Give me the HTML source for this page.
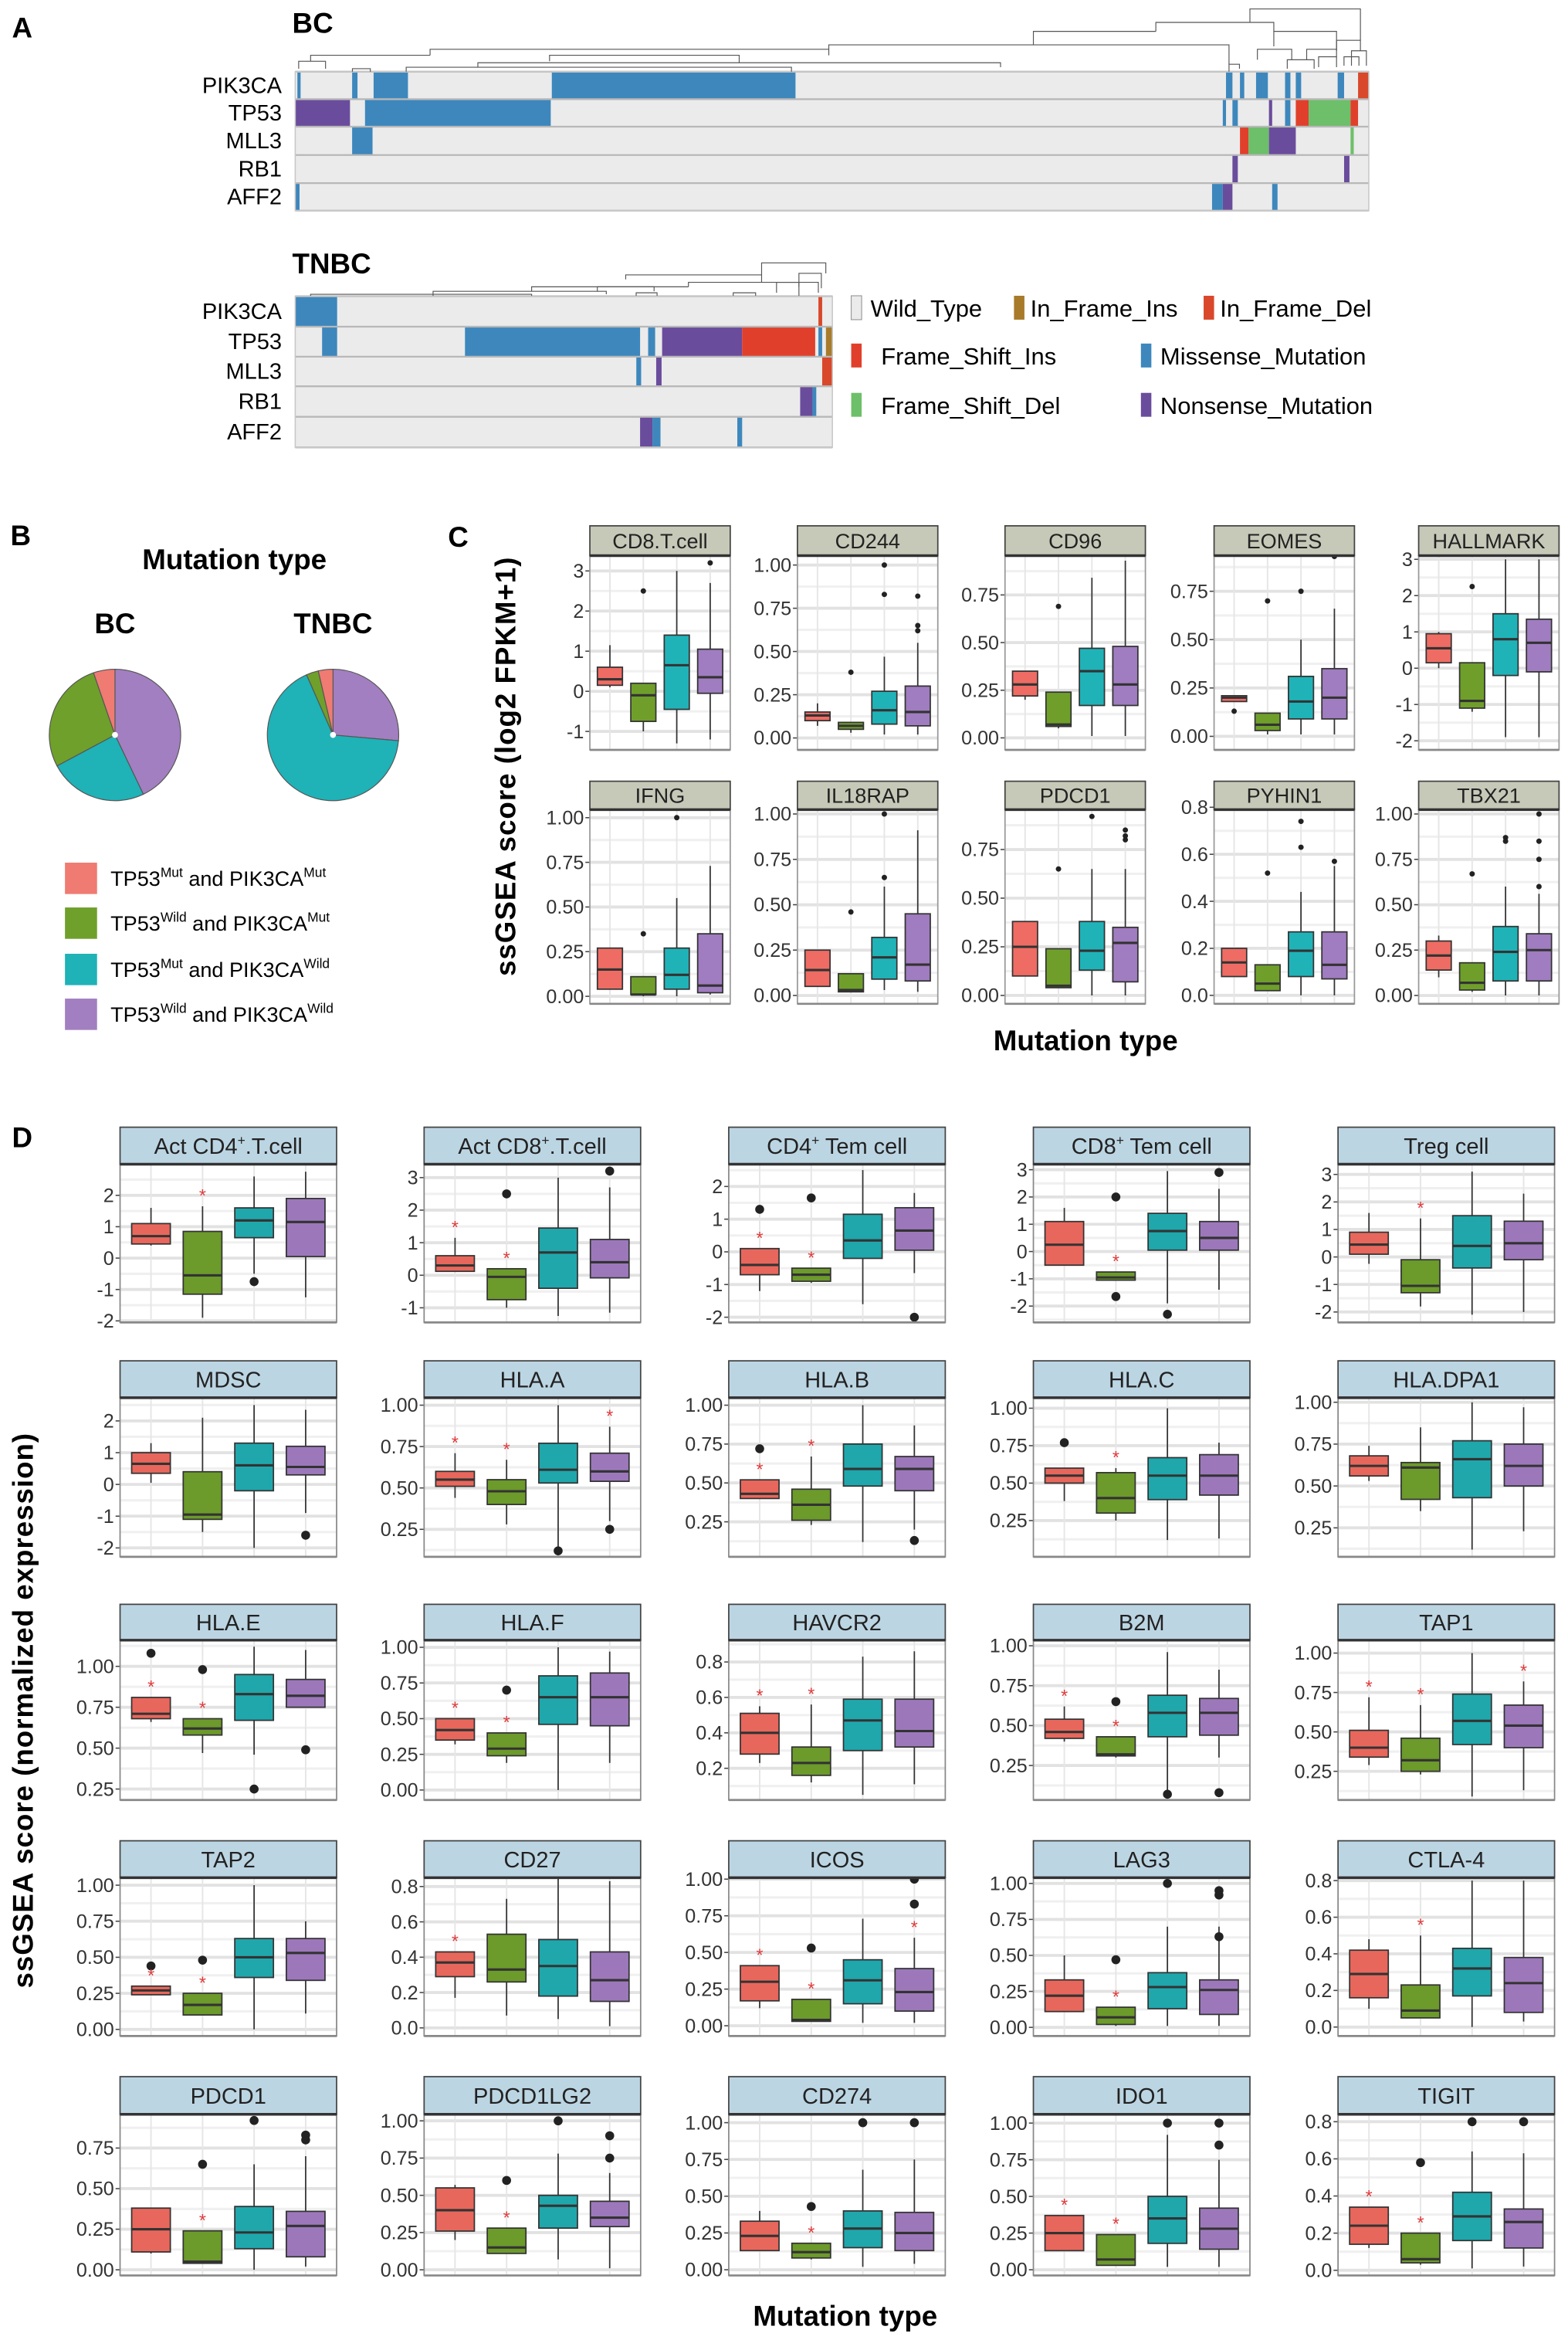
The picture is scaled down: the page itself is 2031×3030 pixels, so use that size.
<!DOCTYPE html>
<html><head><meta charset="utf-8"><style>
html,body{margin:0;padding:0;background:#fff;}
svg{display:block;}
text{font-family:"Liberation Sans",sans-serif;}
.nar{font-family:"Liberation Sans Narrow","Liberation Sans",sans-serif;}
</style></head><body>
<svg id="fig" xmlns="http://www.w3.org/2000/svg" width="2031" height="3030" viewBox="0 0 1050 1566.5" preserveAspectRatio="none">
<g id="panelA"></g>
<g id="panelB"></g>
<g id="panelC"></g>
<g id="panelD"></g>
</svg>
<script>
// ---------- Panel A data ----------
const genes = ["PIK3CA","TP53","MLL3","RB1","AFF2"];
const mutColors = {M:"#3d87bd",N:"#6a4c9c",FI:"#e0402b",FD:"#6dbf6a",ID:"#d9482b",II:"#a87b2a"};
const bcSegments = [
 [0,2,5,"M"],[0,53,58,"M"],[0,73,105,"M"],[0,239,466,"M"],[0,867,873,"M"],[0,880,884,"M"],[0,895,906,"M"],[0,922,927,"M"],[0,932,937,"M"],[0,971,977,"M"],[0,990,1000,"ID"],
 [1,0,51,"N"],[1,65,238,"M"],[1,864,867,"M"],[1,873,878,"M"],[1,907,910,"N"],[1,922,927,"M"],[1,932,944,"FI"],[1,944,983,"FD"],[1,983,990,"FI"],
 [2,53,72,"M"],[2,880,888,"FI"],[2,888,907,"FD"],[2,907,932,"N"],[2,983,986,"FD"],
 [3,873,878,"N"],[3,977,982,"N"],
 [4,0,4,"M"],[4,854,864,"M"],[4,864,873,"N"],[4,910,915,"M"]
];
const tnbcSegments = [
 [0,0,78,"M"],[0,974,981,"ID"],
 [1,50,78,"M"],[1,316,642,"M"],[1,657,670,"M"],[1,683,832,"N"],[1,832,968,"FI"],[1,974,981,"M"],[1,988,1000,"II"],
 [2,635,644,"M"],[2,672,682,"N"],[2,981,1000,"ID"],
 [3,940,963,"N"],[3,963,970,"M"],
 [4,642,665,"N"],[4,665,680,"M"],[4,823,832,"M"]
];
// ---------- Panel B data ----------
const groupLabels = [["TP53","Mut","PIK3CA","Mut"],["TP53","Wild","PIK3CA","Mut"],["TP53","Mut","PIK3CA","Wild"],["TP53","Wild","PIK3CA","Wild"]];
const bcFractions = [0.053,0.275,0.243,0.429];
const tnbcFractions = [0.036,0.03,0.67,0.264];
// ---------- Panel C data ----------
const cTitles = ["CD8.T.cell","CD244","CD96","EOMES","HALLMARK","IFNG","IL18RAP","PDCD1","PYHIN1","TBX21"];
const cDomains = [[-1.46,3.38],[-0.069,1.054],[-0.063,0.956],[-0.07,0.934],[-2.25,3.1],[-0.042,1.045],[-0.046,1.024],[-0.043,0.955],[-0.036,0.79],[-0.046,1.024]];
const cTicks = [[-1,0,1,2,3],[0,0.25,0.5,0.75,1],[0,0.25,0.5,0.75],[0,0.25,0.5,0.75],[-2,-1,0,1,2,3],[0,0.25,0.5,0.75,1],[0,0.25,0.5,0.75,1],[0,0.25,0.5,0.75],[0,0.2,0.4,0.6,0.8],[0,0.25,0.5,0.75,1]];
const cDec = [0,2,2,2,0,2,2,2,1,2];
const cBoxes = [
 [[0.1,0.15,0.3,0.6,1.15],[-1,-0.75,-0.1,0.2,0.2],[-1.3,-0.45,0.65,1.4,3.0],[-1.2,-0.05,0.35,1.05,2.7]],
 [[0.07,0.1,0.13,0.15,0.2],[0.03,0.05,0.07,0.09,0.09],[0.02,0.08,0.16,0.27,0.47],[0.02,0.07,0.15,0.3,0.55]],
 [[0.2,0.22,0.28,0.35,0.35],[0.05,0.06,0.07,0.24,0.24],[0.01,0.17,0.35,0.47,0.84],[0.01,0.17,0.28,0.48,0.93]],
 [[0.18,0.18,0.2,0.21,0.21],[0.01,0.03,0.06,0.12,0.12],[0.01,0.09,0.18,0.31,0.5],[0.01,0.09,0.2,0.35,0.66]],
 [[0,0.15,0.55,0.95,1.0],[-1.2,-1.1,-0.9,0.15,0.15],[-1.9,-0.2,0.8,1.5,3.0],[-1.9,-0.1,0.7,1.35,3.0]],
 [[0.04,0.04,0.15,0.27,0.27],[0,0.01,0.01,0.11,0.11],[0,0.04,0.12,0.27,0.55],[0.01,0.02,0.06,0.35,0.73]],
 [[0.05,0.05,0.14,0.25,0.25],[0.02,0.02,0.03,0.12,0.12],[0.03,0.09,0.21,0.32,0.6],[0.02,0.08,0.17,0.45,0.91]],
 [[0.1,0.1,0.25,0.38,0.38],[0.04,0.04,0.05,0.24,0.24],[0,0.13,0.23,0.38,0.65],[0,0.07,0.27,0.35,0.65]],
 [[0.08,0.08,0.14,0.2,0.2],[0.02,0.02,0.05,0.13,0.13],[0,0.08,0.19,0.27,0.44],[0,0.07,0.13,0.27,0.55]],
 [[0.1,0.14,0.22,0.3,0.33],[0.02,0.03,0.07,0.18,0.18],[0,0.08,0.24,0.38,0.6],[0,0.08,0.25,0.34,0.56]]
];
const cOutliers = [
 [[],[2.5],[],[3.2]],
 [[],[0.38],[0.83,1.0],[0.62,0.65,0.82]],
 [[],[0.69],[],[]],
 [[0.13],[0.7],[0.75],[0.93]],
 [[],[2.25],[],[]],
 [[],[0.35],[1.0],[]],
 [[],[0.46],[0.65,1.0],[]],
 [[],[0.65],[0.92],[0.8,0.82,0.85]],
 [[],[0.52],[0.63,0.74,0.8],[0.57,0.8]],
 [[],[0.67],[0.85,0.87],[0.6,0.75,0.85,1.0]]
];
// ---------- Panel D data ----------
const dTitles = ["Act CD4|.T.cell","Act CD8|.T.cell","CD4| Tem cell","CD8| Tem cell","Treg cell",
 "MDSC","HLA.A","HLA.B","HLA.C","HLA.DPA1",
 "HLA.E","HLA.F","HAVCR2","B2M","TAP1",
 "TAP2","CD27","ICOS","LAG3","CTLA-4",
 "PDCD1","PDCD1LG2","CD274","IDO1","TIGIT"];
const dDomains = [[-2.05,2.99],[-1.45,3.41],[-2.16,2.68],[-2.6,3.2],[-2.38,3.37],
 [-2.28,2.73],[0.084,1.045],[0.025,1.048],[0.008,1.07],[0.077,1.027],
 [0.183,1.16],[-0.07,1.05],[0.021,0.923],[0.034,1.035],[0.068,1.082],
 [-0.046,1.052],[-0.046,0.85],[-0.07,1.01],[-0.06,1.04],[-0.049,0.816],
 [-0.035,0.958],[-0.038,1.044],[-0.039,1.057],[-0.039,1.06],[-0.028,0.84]];
const dTicks = [[-2,-1,0,1,2],[-1,0,1,2,3],[-2,-1,0,1,2],[-2,-1,0,1,2,3],[-2,-1,0,1,2,3],
 [-2,-1,0,1,2],[0.25,0.5,0.75,1],[0.25,0.5,0.75,1],[0.25,0.5,0.75,1],[0.25,0.5,0.75,1],
 [0.25,0.5,0.75,1],[0,0.25,0.5,0.75,1],[0.2,0.4,0.6,0.8],[0.25,0.5,0.75,1],[0.25,0.5,0.75,1],
 [0,0.25,0.5,0.75,1],[0,0.2,0.4,0.6,0.8],[0,0.25,0.5,0.75,1],[0,0.25,0.5,0.75,1],[0,0.2,0.4,0.6,0.8],
 [0,0.25,0.5,0.75],[0,0.25,0.5,0.75,1],[0,0.25,0.5,0.75,1],[0,0.25,0.5,0.75,1],[0,0.2,0.4,0.6,0.8]];
const dDec = [0,0,0,0,0, 0,2,2,2,2, 2,2,1,2,2, 2,1,2,2,1, 2,2,2,2,1];
const dBoxes = [
 [[0.4,0.45,0.7,1.1,1.6],[-1.9,-1.15,-0.55,0.85,1.65],[-0.5,0.65,1.2,1.6,2.6],[-1.25,0.05,1.15,1.9,2.75]],
 [[0.1,0.12,0.3,0.6,1.15],[-1,-0.75,-0.05,0.2,0.2],[-1.25,-0.4,0.7,1.45,3.0],[-1.15,-0.08,0.4,1.1,2.7]],
 [[-1.2,-0.7,-0.4,0.1,0.1],[-0.95,-0.9,-0.7,-0.5,-0.5],[-1.6,-0.2,0.35,1.15,2.5],[-0.65,0.05,0.65,1.35,1.8]],
 [[-0.5,-0.5,0.25,1.1,1.6],[-1.05,-1.05,-0.95,-0.75,-0.75],[-1.9,0.05,0.75,1.4,2.95],[-1.4,0.05,0.5,1.1,2.3]],
 [[-0.25,0.1,0.45,0.9,1.6],[-1.8,-1.3,-1.05,-0.1,1.4],[-2.1,-0.4,0.4,1.5,3.1],[-2.0,-0.1,0.5,1.3,2.3]],
 [[0.05,0.35,0.65,1.0,1.3],[-1.5,-1.1,-0.95,0.4,2.1],[-2.0,-0.2,0.6,1.3,2.5],[-0.9,0.3,0.55,1.2,2.35]],
 [[0.44,0.51,0.55,0.6,0.71],[0.28,0.4,0.48,0.55,0.67],[0.14,0.53,0.61,0.77,1.0],[0.3,0.54,0.6,0.71,0.87]],
 [[0.4,0.4,0.43,0.52,0.52],[0.23,0.26,0.36,0.46,0.67],[0.12,0.48,0.59,0.75,1.0],[0.2,0.45,0.59,0.67,0.87]],
 [[0.38,0.5,0.55,0.6,0.6],[0.25,0.3,0.4,0.57,0.6],[0.12,0.39,0.55,0.67,1.0],[0.13,0.42,0.55,0.69,0.77]],
 [[0.53,0.56,0.62,0.68,0.74],[0.35,0.42,0.61,0.64,0.85],[0.12,0.43,0.66,0.77,1.0],[0.23,0.5,0.62,0.75,0.97]],
 [[0.66,0.68,0.71,0.81,0.81],[0.47,0.58,0.62,0.68,0.68],[0.46,0.67,0.83,0.95,1.12],[0.75,0.75,0.82,0.92,1.1]],
 [[0.32,0.35,0.42,0.5,0.5],[0.19,0.24,0.29,0.4,0.4],[0.0,0.46,0.65,0.8,1.0],[0.19,0.45,0.65,0.82,0.97]],
 [[0.23,0.28,0.4,0.51,0.55],[0.12,0.16,0.23,0.32,0.56],[0.05,0.3,0.47,0.59,0.83],[0.11,0.32,0.41,0.59,0.86]],
 [[0.4,0.42,0.46,0.54,0.62],[0.3,0.31,0.32,0.43,0.43],[0.09,0.43,0.58,0.69,0.96],[0.3,0.44,0.58,0.67,0.85]],
 [[0.29,0.34,0.4,0.51,0.72],[0.23,0.25,0.32,0.46,0.67],[0.09,0.42,0.57,0.74,1.0],[0.13,0.4,0.54,0.67,0.82]],
 [[0.24,0.24,0.27,0.3,0.3],[0.1,0.1,0.17,0.25,0.25],[0.0,0.36,0.5,0.63,1.0],[0.11,0.34,0.53,0.63,0.75]],
 [[0.17,0.29,0.37,0.43,0.43],[0.07,0.26,0.33,0.53,0.73],[0.05,0.18,0.35,0.5,0.85],[0.01,0.15,0.27,0.43,0.83]],
 [[0.12,0.17,0.3,0.41,0.41],[0.03,0.03,0.04,0.18,0.18],[0.02,0.15,0.31,0.45,0.73],[0.02,0.1,0.23,0.39,0.6]],
 [[0.11,0.11,0.22,0.33,0.5],[0.01,0.02,0.07,0.14,0.14],[0.01,0.13,0.28,0.38,0.7],[0.01,0.09,0.26,0.33,0.7]],
 [[0.1,0.16,0.29,0.42,0.48],[0.05,0.05,0.09,0.23,0.5],[0.0,0.17,0.32,0.43,0.8],[0.03,0.08,0.24,0.38,0.8]],
 [[0.1,0.11,0.25,0.38,0.38],[0.04,0.04,0.05,0.24,0.24],[0.0,0.13,0.23,0.39,0.65],[0.02,0.08,0.27,0.36,0.7]],
 [[0.2,0.26,0.4,0.55,0.57],[0.11,0.11,0.15,0.28,0.28],[0.07,0.28,0.43,0.5,0.78],[0.01,0.29,0.35,0.46,0.65]],
 [[0.13,0.13,0.23,0.33,0.4],[0.07,0.08,0.12,0.18,0.18],[0.02,0.15,0.28,0.4,0.68],[0.04,0.13,0.25,0.39,0.75]],
 [[0.13,0.13,0.25,0.37,0.37],[0.03,0.03,0.07,0.24,0.24],[0.02,0.18,0.35,0.5,0.92],[0.02,0.14,0.28,0.42,0.75]],
 [[0.12,0.14,0.24,0.34,0.34],[0.03,0.04,0.06,0.2,0.2],[0.01,0.16,0.29,0.42,0.64],[0.02,0.12,0.26,0.33,0.63]]
];
const dOutliers = [
 [[],[],[-0.75],[]],[[],[2.5],[],[3.2]],[[1.3],[1.65],[],[-2.0]],[[],[2.0,-1.65],[-2.3],[2.9]],[[],[],[],[]],
 [[],[],[],[-1.6]],[[],[],[0.12],[0.25]],[[0.72],[],[],[0.13]],[[0.77],[],[],[]],[[],[],[],[]],
 [[1.08],[0.98],[0.25],[0.49]],[[],[0.7],[],[]],[[],[],[],[]],[[],[0.65],[0.07],[0.08]],[[],[],[],[]],
 [[0.44],[0.48],[],[]],[[],[],[],[]],[[],[0.53],[],[0.83,1.0]],[[],[0.47],[1.0],[0.63,0.92,0.95]],[[],[],[],[]],
 [[],[0.65],[0.92],[0.8,0.83]],[[],[0.6],[1.0],[0.75,0.9]],[[],[0.43],[1.0],[1.0]],[[],[],[1.0],[0.85,1.0]],[[],[0.58],[0.8],[0.8]]
];
const dStars = [
 [0,1,0,0],[1,1,0,0],[1,1,0,0],[0,1,0,0],[0,1,0,0],
 [0,0,0,0],[1,1,0,1],[1,1,0,0],[0,1,0,0],[0,0,0,0],
 [1,1,0,0],[1,1,0,0],[1,1,0,0],[1,1,0,0],[1,1,0,1],
 [1,1,0,0],[1,0,0,1],[1,1,0,1],[0,1,0,0],[0,1,0,0],
 [0,1,0,0],[0,1,0,0],[0,1,0,0],[1,1,0,0],[1,1,0,0]
];
</script>
<script>
const NS="http://www.w3.org/2000/svg";
function mk(parent,tag,attrs,txt){const e=document.createElementNS(NS,tag);for(const k in attrs)e.setAttribute(k,attrs[k]);if(txt!==undefined)e.textContent=txt;parent.appendChild(e);return e;}
const A=document.getElementById('panelA'),B=document.getElementById('panelB'),C=document.getElementById('panelC'),D=document.getElementById('panelD');

// ---------- Panel A ----------
let t=mk(A,'text',{x:8,y:25,'font-size':19,'font-weight':'bold'},'A');

function oncoprint(g,title,x0,x1,rows,segs,tops,tree){
  let tt=mk(g,'text',{x:x0-2,y:tops.titleY,'font-size':19,'font-weight':'bold'},title);
  
  const hm=mk(g,'g',{});
  
  mk(hm,'rect',{x:x0,y:rows[0],width:x1-x0,height:rows[5]-rows[0],fill:'#ebebeb'});
  const sx=v=>x0+(x1-x0)*v/1000;
  segs.forEach(s=>{
    const r=mk(hm,'rect',{x:sx(s[1]),y:rows[s[0]],width:Math.max(0.8,sx(s[2])-sx(s[1])),height:rows[s[0]+1]-rows[s[0]],fill:mutColors[s[3]]});
    
  });
  for(let i=0;i<6;i++) mk(hm,'line',{x1:x0,x2:x1,y1:rows[i],y2:rows[i],stroke:'#b8b8b8','stroke-width':1.2});
  mk(hm,'rect',{x:x0,y:rows[0],width:x1-x0,height:rows[5]-rows[0],fill:'none',stroke:'#c8c8c8','stroke-width':0.8});
  genes.forEach((gn,i)=>{
    const l=mk(g,'text',{x:x0-9,y:(rows[i]+rows[i+1])/2+5,'font-size':15,'text-anchor':'end',class:'nar'},gn);
    
  });
  const tg=mk(g,'g',{stroke:'#555','stroke-width':0.6,fill:'none'});
  
  tree.forEach(b=>mk(tg,'path',{d:`M${b[0]},${b[3]}V${b[2]}H${b[1]}V${b[4]}`}));
}
const bcTree=[[837,911,6,15,27],[774,853,15,21,21],[692,774,21,30,21],[555,823,30,33,43],[853,895,21,31,33],
 [288,555,33,37,37],[208,288,37,41,37],[368,495,37,41,42],[320,670,42,45,45],[272,530,45,48,48],[200,218,41,46,46],
 [236,248,46,48,48],[823,830,43,48,46],[842,865,33,40,40],[875,895,33,40,38],[895,911,27,34,34],[900,910,38,44,44],
 [862,880,40,46,46],[883,895,38,45,45],[905,915,34,44,44]];
oncoprint(A,'BC',197.7,916.6,[48,66.4,84.8,103.8,122.6,141],bcSegments,{titleY:22},bcTree);
const tnTree=[[510,553,176,184,183],[419,510,184,187,189],[461,535,189,192,192],[356,461,192,195,192],[290,406,195,198,197],
 [208,356,197,198,198],[520,548,189,196,196],[535,550,183,198,193],[426,440,196,198,198],[491,506,196,198,198],[400,438,192,195,195]];
oncoprint(A,'TNBC',197.7,557.4,[198.3,218.7,238.8,258.6,279,299.5],tnbcSegments,{titleY:183},tnTree);
const legItems=[["Wild_Type","#ebebeb",570,583,206],["In_Frame_Ins",mutColors.II,679,690,206],["In_Frame_Del",mutColors.ID,806,817,206],
 ["Frame_Shift_Ins",mutColors.FI,570,590,238],["Missense_Mutation",mutColors.M,764,777,238],
 ["Frame_Shift_Del",mutColors.FD,570,590,271],["Nonsense_Mutation",mutColors.N,764,777,271]];
legItems.forEach(it=>{
  const g=mk(A,'g',{});
  
  mk(g,'rect',{x:it[2],y:it[4]-8,width:7,height:16,fill:it[1],stroke:it[0]==="Wild_Type"?'#999':'none','stroke-width':0.6});
  mk(g,'text',{x:it[3],y:it[4]+6,'font-size':16,class:'nar'},it[0]);
});

// ---------- Panel B ----------
t=mk(B,'text',{x:7,y:365,'font-size':19,'font-weight':'bold'},'B');

t=mk(B,'text',{x:157,y:381,'font-size':19,'font-weight':'bold','text-anchor':'middle'},'Mutation type');

const grpColors=["#ef7b72","#6fa02b","#1fb2b7","#a27fc0"];
function pie(cx,cy,r,fr,label,name){
  const g=mk(B,'g',{});
  const lt=mk(g,'text',{x:cx,y:cy-68,'font-size':19,'font-weight':'bold','text-anchor':'middle'},label);
  // order clockwise from top: red? ref: purple first clockwise, then teal, green, red
  const order=[3,2,1,0];let a=0;
  order.forEach(i=>{
    const a2=a+fr[i]*2*Math.PI;
    const p=(an)=>[cx+r*Math.sin(an),cy-r*Math.cos(an)];
    const [x1,y1]=p(a),[x2,y2]=p(a2);
    const s=mk(g,'path',{d:`M${cx},${cy}L${x1},${y1}A${r},${r} 0 ${a2-a>Math.PI?1:0} 1 ${x2},${y2}Z`,fill:grpColors[i],stroke:'#555','stroke-width':0.6});
    
    a=a2;
  });
  mk(g,'circle',{cx:cx,cy:cy,r:2,fill:'#fff'});
}
pie(77,492,44,bcFractions,'BC','bc-pie');
pie(223,492,44,tnbcFractions,'TNBC','tnbc-pie');
const legY=[588,618,649,679];
groupLabels.forEach((gl,i)=>{
  const g=mk(B,'g',{});
  mk(g,'rect',{x:43.5,y:legY[i]-10.5,width:21.5,height:21,fill:grpColors[i]});
  const tx=mk(g,'text',{x:74,y:legY[i]+5,'font-size':14,class:'nar'});
  tx.innerHTML=`${gl[0]}<tspan font-size="9" dy="-6">${gl[1]}</tspan><tspan dy="6"> and ${gl[2]}</tspan><tspan font-size="9" dy="-6">${gl[3]}</tspan>`;
});

// ---------- Box panel helper ----------
const boxCols=["#e8675c","#6c9a2b","#1fa7ac","#9c78bb"];
function boxPanel(g,px,pw,st,T,Bt,title,dom,ticks,dec,boxes,outs,stars,style){
  const pg=mk(g,'g',{});
  
  
  const [lo,hi]=dom;const y=v=>T+(hi-v)/(hi-lo)*(Bt-T);
  const cx=i=>px+pw*(i+0.6)/4.2;const bw=pw*0.75/4.2;
  mk(pg,'rect',{x:px,y:T,width:pw,height:Bt-T,fill:'#fff'});
  // minor grid
  const step=ticks[1]-ticks[0];
  for(let v=ticks[0]-step/2;v<=hi;v+=step){if(v>lo&&v<hi)mk(pg,'line',{x1:px,x2:px+pw,y1:y(v),y2:y(v),stroke:'#f0f0f0','stroke-width':1.6});}
  ticks.forEach(v=>{mk(pg,'line',{x1:px,x2:px+pw,y1:y(v),y2:y(v),stroke:'#e2e2e2','stroke-width':2});});
  for(let i=0;i<4;i++)mk(pg,'line',{x1:cx(i),x2:cx(i),y1:T,y2:Bt,stroke:'#e6e6e6','stroke-width':1});
  ticks.forEach(v=>{
    mk(pg,'line',{x1:px-3,x2:px,y1:y(v),y2:y(v),stroke:'#444','stroke-width':0.8});
    const tl=mk(pg,'text',{x:px-4,y:y(v)+4.5,'font-size':style.tf,'text-anchor':'end',fill:'#333',class:'nar'},v.toFixed(dec));
    
  });
  boxes.forEach((b,i)=>{
    const bg=mk(pg,'g',{});
    
    mk(bg,'line',{x1:cx(i),x2:cx(i),y1:y(b[0]),y2:y(b[4]),stroke:'#333','stroke-width':0.9});
    mk(bg,'rect',{x:cx(i)-bw/2,y:y(b[3]),width:bw,height:Math.max(1,y(b[1])-y(b[3])),fill:style.cols[i],stroke:'#333','stroke-width':0.9});
    mk(bg,'line',{x1:cx(i)-bw/2,x2:cx(i)+bw/2,y1:y(b[2]),y2:y(b[2]),stroke:'#333','stroke-width':1.6});
    (outs[i]||[]).forEach(o=>{const c=mk(bg,'circle',{cx:cx(i),cy:y(o),r:style.or,fill:'#222'});});
    if(stars&&stars[i]){const s=mk(bg,'text',{x:cx(i),y:y(b[4])-3,'font-size':12,'text-anchor':'middle',fill:'#e0393a'},'*');}
  });
  mk(pg,'rect',{x:px,y:T,width:pw,height:Bt-T,fill:'none',stroke:style.border,'stroke-width':0.9});
  mk(pg,'line',{x1:px,x2:px+pw,y1:Bt,y2:Bt,stroke:'#888','stroke-width':1.4});
  // strip
  const sg=mk(pg,'g',{});
  mk(sg,'rect',{x:px,y:st,width:pw,height:T-st,fill:style.strip,stroke:'#444','stroke-width':0.9});
  mk(sg,'line',{x1:px,x2:px+pw,y1:T,y2:T,stroke:'#333','stroke-width':1.8});
  const parts=title.split('|');
  const tx=mk(sg,'text',{x:px+pw/2,y:(st+T)/2+style.sf*0.36,'font-size':style.sf,'text-anchor':'middle',fill:'#222',class:'nar'});
  if(parts.length>1){tx.innerHTML=`${parts[0]}<tspan font-size="${style.sf*0.6}" dy="-6">+</tspan><tspan dy="6">${parts[1]}</tspan>`;}
  else tx.textContent=title;
}

// ---------- Panel C ----------
t=mk(C,'text',{x:300,y:366,'font-size':19,'font-weight':'bold'},'C');

t=mk(C,'text',{x:0,y:0,'font-size':19,'font-weight':'bold','text-anchor':'middle',transform:'translate(345,513) rotate(-90)','letter-spacing':'0.5'},'ssGSEA score (log2 FPKM+1)');

t=mk(C,'text',{x:727,y:703,'font-size':19,'font-weight':'bold','text-anchor':'middle'},'Mutation type');

const cColX=[395,534,673,813,950];const cRows=[[352,372,502],[523,542,672]];
const cStyle={cols:["#ee6c63","#6f9f2a","#1fb3b8","#a07cc0"],strip:'#c6c9b8',border:'#999',tf:13,sf:14,or:1.8};
cTitles.forEach((ti,k)=>{const r=cRows[Math.floor(k/5)],x=cColX[k%5];
  boxPanel(C,x,94,r[0],r[1],r[2],ti,cDomains[k],cTicks[k],cDec[k],cBoxes[k],cOutliers[k],null,cStyle);});

// ---------- Panel D ----------
t=mk(D,'text',{x:8,y:768,'font-size':19,'font-weight':'bold'},'D');

t=mk(D,'text',{x:0,y:0,'font-size':19,'font-weight':'bold','text-anchor':'middle',transform:'translate(22,1145) rotate(-90)','letter-spacing':'0.5'},'ssGSEA score (normalized expression)');

t=mk(D,'text',{x:566,y:1557,'font-size':19,'font-weight':'bold','text-anchor':'middle'},'Mutation type');

const dColX=[80.4,284,488,692,896];
const dRows=[[754.6,779.4,885.3],[911,935.7,1042.2],[1074,1098,1205],[1232.3,1257,1363],[1390.2,1415.4,1523.3]];
const dStyle={cols:boxCols,strip:'#bcd5e3',border:'#888',tf:13,sf:15,or:3};
dTitles.forEach((ti,k)=>{const r=dRows[Math.floor(k/5)],x=dColX[k%5];
  boxPanel(D,x,145,r[0],r[1],r[2],ti,dDomains[k],dTicks[k],dDec[k],dBoxes[k],dOutliers[k],dStars[k],dStyle);});
</script>
</body></html>
